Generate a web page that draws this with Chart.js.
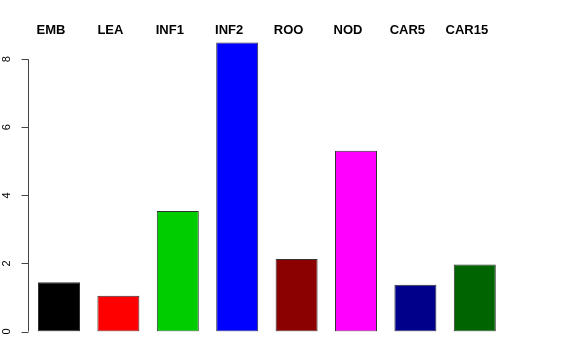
<!DOCTYPE html>
<html>
<head>
<meta charset="utf-8">
<script src="https://cdn.jsdelivr.net/npm/chart.js@4"></script>
<style>
    html, body { margin: 0; padding: 0; background: #fff; }
    #wrap { width: 576px; height: 360px; }
</style>
</head>
<body>
<div id="wrap"><canvas id="barChart" width="576" height="360"></canvas></div>
<script>
// chart data
const categories = ['EMB', 'LEA', 'INF1', 'INF2', 'ROO', 'NOD', 'CAR5', 'CAR15'];
const values = [1.45, 1.05, 3.54, 8.49, 2.13, 5.31, 1.37, 1.97];
const barColors = ['#000000', '#FF0000', '#00CD00', '#0000FF', '#8B0000', '#FF00FF', '#00008B', '#006400'];
const yTicks = [0, 2, 4, 6, 8];

// R style axis + top labels drawn from the chart's scales
const rAxisPlugin = {
    id: 'rAxis',
    afterDraw(chart) {
        const ctx = chart.ctx;
        const y = chart.scales.y;
        const x = chart.scales.x;
        const axisX = chart.chartArea.left - 0.8;

        ctx.save();
        ctx.strokeStyle = '#444';
        ctx.lineWidth = 1;
        ctx.beginPath();
        ctx.moveTo(axisX, y.getPixelForValue(yTicks[0]));
        ctx.lineTo(axisX, y.getPixelForValue(yTicks[yTicks.length - 1]));
        yTicks.forEach(t => {
            const py = Math.round(y.getPixelForValue(t)) + 0.5;
            ctx.moveTo(axisX, py);
            ctx.lineTo(axisX - 7, py);
        });
        ctx.stroke();

        // tick labels, rotated
        ctx.fillStyle = '#000';
        ctx.font = '11px "Liberation Sans", Arial, sans-serif';
        ctx.textAlign = 'center';
        ctx.textBaseline = 'alphabetic';
        yTicks.forEach(t => {
            ctx.save();
            ctx.translate(9.5, y.getPixelForValue(t));
            ctx.rotate(-Math.PI / 2);
            ctx.fillText(String(t), 0, 0);
            ctx.restore();
        });

        // category names along the top
        ctx.font = 'bold 13px "Liberation Sans", Arial, sans-serif';
        categories.forEach((c, i) => {
            ctx.fillText(c, x.getPixelForValue(i) - 8, 33.7);
        });
        ctx.restore();
    }
};

document.addEventListener('DOMContentLoaded', function() {
    const ctx = document.getElementById('barChart').getContext('2d');
    new Chart(ctx, {
        type: 'bar',
        data: {
            labels: categories,
            datasets: [{
                data: values,
                backgroundColor: barColors,
                borderColor: '#333',
                borderWidth: 1,
                borderSkipped: false,
                categoryPercentage: 1.0,
                barPercentage: 0.707
            }]
        },
        options: {
            responsive: false,
            animation: false,
            devicePixelRatio: 1,
            layout: {
                padding: { left: 29.3, right: 71.5, top: 32, bottom: 28.5 }
            },
            plugins: {
                legend: { display: false },
                tooltip: { enabled: false }
            },
            scales: {
                x: { display: false, offset: true },
                y: { display: false, min: 0, max: 8.8 }
            }
        },
        plugins: [rAxisPlugin]
    });
});
</script>
</body>
</html>
